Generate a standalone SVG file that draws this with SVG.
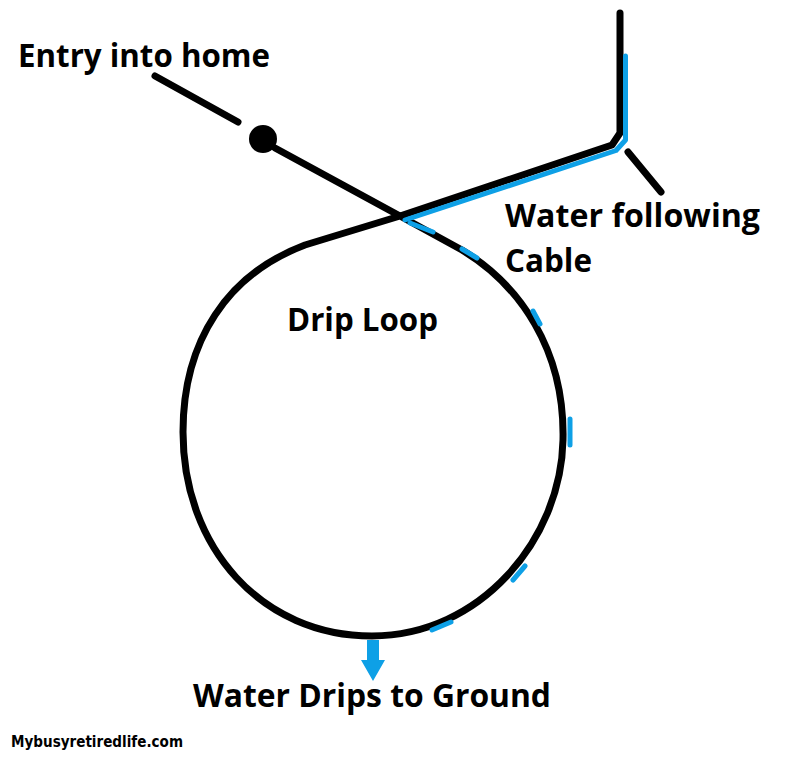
<svg xmlns="http://www.w3.org/2000/svg" width="800" height="761" viewBox="0 0 800 761">
<style>
.blk{fill:none;stroke:#000;stroke-width:7;stroke-linecap:round;stroke-linejoin:round}
.blu{fill:none;stroke:#0ea0e6;stroke-width:5;stroke-linecap:round;stroke-linejoin:round}
.lbl{font-family:"Open Sans","Liberation Sans",sans-serif;font-weight:700;font-size:32px;fill:#000}
.wm{font-family:"DejaVu Sans","Liberation Sans",sans-serif;font-weight:bold;font-size:15px;fill:#000}
</style>
<rect width="800" height="761" fill="#fff"/>
<g id="connectors">
<path class="blk" d="M155 76 L238 122"/>
<path class="blk" d="M275 148 L400 216 L462 250 C520 285 565 350 563 440 C561 540 480 636 372 636 C262 636 183 548 183 432 C183 340 228 274 305 245 L400 216 L612 145 L620 133 L620 13"/>
<path class="blk" d="M628 152 L661 192"/>
<path class="blu" d="M625.5 56 L625.5 140 L616 150.5 L405 220"/>
<path class="blu" d="M410 223 L433 232 M462 249 L477 258 M533 311 L540 324 M570 419 L570 445 M525 566 L513 580 M451 622 L432 630"/>
</g>
<g id="entry-dot"><circle cx="263" cy="139" r="14" fill="#000"/></g>
<g id="arrow"><path d="M367 640 H379 V660 H385 L373 681 L361 660 H367 Z" fill="#0ea0e6"/></g>
<g id="label-entry"><text class="lbl" x="18" y="67" textLength="252" lengthAdjust="spacingAndGlyphs">Entry into home</text></g>
<g id="label-water"><text class="lbl" x="505" y="227" textLength="255" lengthAdjust="spacingAndGlyphs">Water following</text><text class="lbl" x="505" y="272" textLength="87" lengthAdjust="spacingAndGlyphs">Cable</text></g>
<g id="label-loop"><text class="lbl" x="287" y="331" textLength="151" lengthAdjust="spacingAndGlyphs">Drip Loop</text></g>
<g id="label-drips"><text class="lbl" x="193" y="707" textLength="358" lengthAdjust="spacingAndGlyphs">Water Drips to Ground</text></g>
<g id="watermark"><text class="wm" x="11" y="747" textLength="172" lengthAdjust="spacingAndGlyphs">Mybusyretiredlife.com</text></g>
</svg>
